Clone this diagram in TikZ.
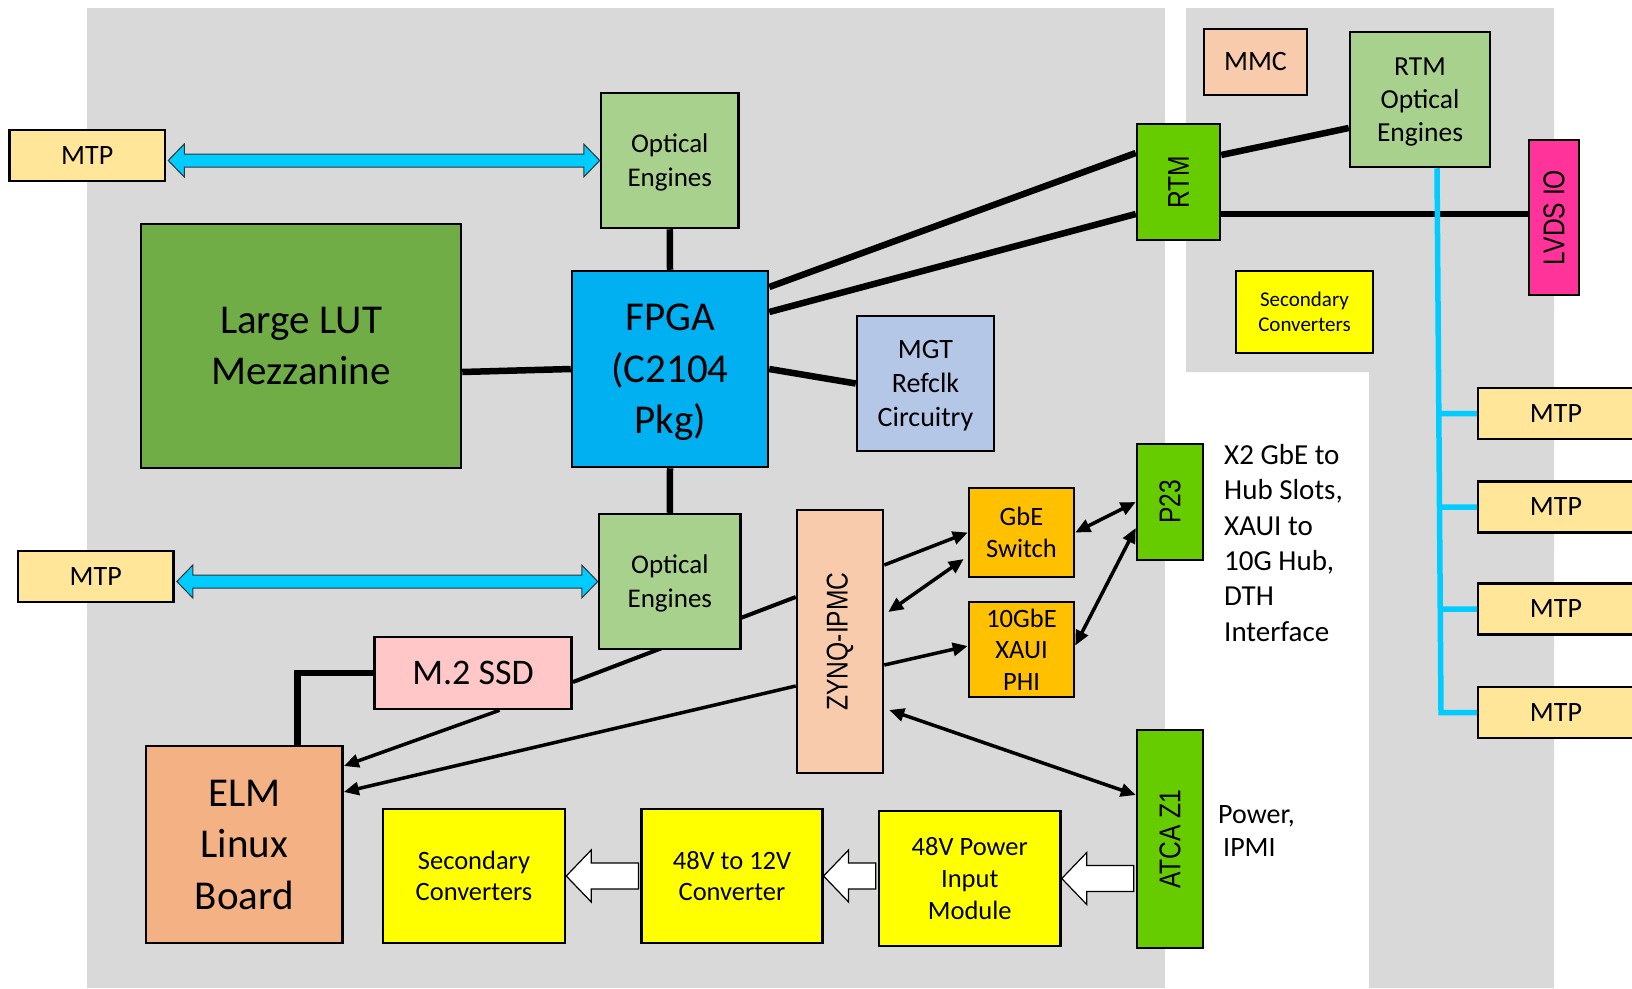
\documentclass[tikz,border=0pt]{standalone}
\usepackage{fontspec}
\setmainfont{Carlito}
\newfontfamily\narrowfont[FakeStretch=0.82]{Liberation Sans}
\usepackage{graphicx}
\usetikzlibrary{arrows.meta,calc}
\definecolor{bggray}{HTML}{D9D9D9}
\definecolor{mtpc}{HTML}{FFE699}
\definecolor{oec}{HTML}{A9D18E}
\definecolor{lutc}{HTML}{70AD47}
\definecolor{fpgac}{HTML}{00B0F0}
\definecolor{mgtc}{HTML}{B4C7E7}
\definecolor{rtmc}{HTML}{66CC00}
\definecolor{mmcc}{HTML}{F8CBAD}
\definecolor{lvdsc}{HTML}{FF3399}
\definecolor{yelc}{HTML}{FFFF00}
\definecolor{orc}{HTML}{FFC000}
\definecolor{ssdc}{HTML}{FFC7C7}
\definecolor{elmc}{HTML}{F4B183}
\definecolor{cyanc}{HTML}{00CCFF}
\pgfdeclarelayer{bg}
\pgfdeclarelayer{conn}
\pgfsetlayers{bg,conn,main}
\tikzset{
  box/.style={draw=black, line width=2.5pt, inner sep=0pt, align=center, text=black},
  fA/.style={font=\fontsize{28}{34}\selectfont},
  fOE/.style={font=\fontsize{27}{34}\selectfont},
  fBig/.style={font=\fontsize{41}{51.5}\selectfont},
  fMid/.style={font=\fontsize{26.5}{31.7}\selectfont},
  fSmall/.style={font=\fontsize{21}{25}\selectfont},
  fSSD/.style={font=\fontsize{36}{42}\selectfont},
  fRot/.style={font=\narrowfont\fontsize{30}{36}\selectfont},
  fNote/.style={font=\fontsize{29}{35.4}\selectfont},
  fNoteB/.style={font=\fontsize{28}{33.3}\selectfont},
  thickline/.style={line width=6.5pt},
  medline/.style={line width=4pt},
  arr/.style={line width=3.5pt, -{Triangle[length=15pt,width=13pt]}},
  darr/.style={line width=3.5pt, {Triangle[length=15pt,width=13pt]}-{Triangle[length=15pt,width=13pt]}},
  cyanline/.style={draw=cyanc, line width=5.5pt},
  fatarr/.style={fill=cyanc, draw=black!80, line width=1pt},
  hollowarr/.style={fill=white, draw=black, line width=1.2pt},
}
\newcommand{\fatarrow}[2]{%
  \draw[fatarr] let \p1=(#1.east), \p2=(#2.west) in
   (\x1+2pt,\y2) -- (\x1+18pt,\y2+16.5pt) -- (\x1+18pt,\y2+6.5pt) -- (\x2-16pt,\y2+6.5pt)
   -- (\x2-16pt,\y2+16.5pt) -- (\x2,\y2) -- (\x2-16pt,\y2-16.5pt) -- (\x2-16pt,\y2-6.5pt)
   -- (\x1+18pt,\y2-6.5pt) -- (\x1+18pt,\y2-16.5pt) -- cycle;}
\newcommand{\hollowarrow}[2]{%
  \draw[hollowarr] let \p1=(#2.east), \p2=(#1.west) in
   (\x1,\y1) -- (\x1+25pt,\y1+26pt) -- (\x1+25pt,\y1+13pt) -- (\x2-2pt,\y1+13pt)
   -- (\x2-2pt,\y1-13pt) -- (\x1+25pt,\y1-13pt) -- (\x1+25pt,\y1-26pt) -- cycle;}
\begin{document}
\begin{tikzpicture}[x=1pt,y=-1pt]
\useasboundingbox (0,0) rectangle (1632,988);
\begin{pgfonlayer}{bg}
\fill[bggray] (87,8) rectangle (1165,988);
\fill[bggray] (1186,8) -- (1554,8) -- (1554,988) -- (1369,988) -- (1369,372) -- (1186,372) -- cycle;
\end{pgfonlayer}

% nodes
\node[box, fA, fill=mtpc, minimum width=155.6, minimum height=51] (mtpA) at (87.2,155.5) {MTP};
\node[box, fOE, fill=oec, minimum width=137.5, minimum height=135] (oeA) at (669.75,160.5) {Optical\\\smash{Engines}};
\node[box, fBig, fill=lutc, minimum width=320, minimum height=244] (lut) at (301,346) {Large LUT\\Mezzanine};
\node[box, fBig, fill=fpgac, minimum width=196, minimum height=196] (fpga) at (670,369) {FPGA\\(C2104\\\smash{Pkg)}};
\node[box, fA, fill=mgtc, minimum width=137, minimum height=135] (mgt) at (925.5,383.5) {MGT\\Refclk\\\smash{Circuitry}};
\node[box, fA, fill=mmcc, minimum width=103, minimum height=66] (mmc) at (1255.5,62) {MMC};
\node[box, font=\fontsize{27.5}{33.3}\selectfont, fill=oec, minimum width=140, minimum height=135] (rtmoe) at (1420,99.5) {RTM\\Optical\\\smash{Engines}};
\node[box, fRot, fill=rtmc, minimum width=83, minimum height=116] (rtm) at (1178.5,182) {\rotatebox{90}{RTM}};
\node[box, fRot, fill=lvdsc, minimum width=50, minimum height=155] (lvds) at (1554,217.5) {\rotatebox{90}{LVDS IO}};
\node[box, fSmall, fill=yelc, minimum width=137, minimum height=82] (sec1) at (1304.5,312) {Secondary\\Converters};
\node[box, fRot, fill=rtmc, minimum width=66, minimum height=116] (p23) at (1170,502) {\rotatebox{90}{P23}};
\node[box, fA, fill=mtpc, minimum width=155.8, minimum height=51] (mtpB) at (95.7,576.5) {MTP};
\node[box, fOE, fill=oec, minimum width=141.6, minimum height=135] (oeB) at (669.8,581.5) {Optical\\\smash{Engines}};
\node[box, fSSD, fill=ssdc, minimum width=197.2, minimum height=72] (ssd) at (473.1,673) {M.2 SSD};
\node[box, fBig, fill=elmc, minimum width=196.6, minimum height=197] (elm) at (244.3,844.5) {ELM\\Linux\\Board};
\node[box, fMid, fill=yelc, minimum width=182, minimum height=134] (sec2) at (474,876) {Secondary\\Converters};
\node[box, fMid, fill=yelc, minimum width=180.6, minimum height=134] (conv) at (732,876) {48V to 12V\\Converter};
\node[box, fMid, fill=yelc, minimum width=181.5, minimum height=135] (pim) at (969.75,878.5) {48V Power\\Input\\Module};
\node[box, fRot, fill=rtmc, minimum width=66, minimum height=218] (atca) at (1170,839) {\rotatebox{90}{ATCA Z1}};
\node[box, fRot, fill=mmcc, minimum width=86, minimum height=263] (zynq) at (840,641.5) {\rotatebox{90}{ZYNQ-IPMC}};
\node[box, fMid, fill=orc, minimum width=105, minimum height=89] (gbe) at (1021.5,532.5) {GbE\\Switch};
\node[box, fMid, fill=orc, minimum width=105, minimum height=95] (xaui) at (1021.5,649.5) {10GbE\\XAUI\\PHI};
\node[box, fA, fill=mtpc, minimum width=156, minimum height=51] (mtpR1) at (1556,413.5) {MTP};
\node[box, fA, fill=mtpc, minimum width=156, minimum height=51] (mtpR2) at (1556,507) {MTP};
\node[box, fA, fill=mtpc, minimum width=156, minimum height=51] (mtpR3) at (1556,609) {MTP};
\node[box, fA, fill=mtpc, minimum width=156, minimum height=51] (mtpR4) at (1556,712.5) {MTP};
\node[fNote, align=left, anchor=north west, inner sep=0pt] (note1) at (1224,444) {X2 GbE to\\Hub Slots,\\XAUI to\\10G Hub,\\DTH\\Interface};
\node[fNoteB, align=left, anchor=north west, inner sep=0pt] (note2) at (1218,805) {Power,\\\hspace*{5pt}IPMI};

% connectors
\begin{pgfonlayer}{conn}
\draw[thickline] (oeA.south) -- (fpga.north);
\draw[thickline] (fpga.south) -- (oeB.north);
\draw[thickline] ([yshift=-26pt]lut.east) -- (fpga.west);
\draw[thickline] ([yshift=82pt]fpga.east) -- ([yshift=29pt]rtm.west);
\draw[thickline] ([yshift=57pt]fpga.east) -- ([yshift=-32pt]rtm.west);
\draw[thickline] (fpga.east) -- (mgt.west);
\draw[thickline] ([yshift=27pt]rtm.east) -- ([yshift=-28.5pt]rtmoe.west);
\coordinate (r1) at ([yshift=-32pt]rtm.east);
\draw[thickline] (r1) -- (r1 -| lvds.west);
\coordinate (trunk) at ([xshift=17pt]rtmoe.south);
\coordinate (trunkend) at ([xshift=21pt]rtmoe.south |- mtpR4.west);
\draw[cyanline] (trunk) -- (trunkend) -- (mtpR4.west);
\draw[cyanline] ($(trunk)!(mtpR1.west)!(trunkend)$) -- (mtpR1.west);
\draw[cyanline] ($(trunk)!(mtpR2.west)!(trunkend)$) -- (mtpR2.west);
\draw[cyanline] ($(trunk)!(mtpR3.west)!(trunkend)$) -- (mtpR3.west);
\draw[medline] ([yshift=44.5pt]zynq.west) -- ([yshift=-9pt]ssd.east);
\draw[thickline] (ssd.west) -| ([xshift=53pt]elm.north);
\draw[arr] ([xshift=26.5pt]ssd.south) -- ([yshift=78.5pt]elm.east);
\draw[arr] ([yshift=-44.5pt]zynq.west) -- ([yshift=52.5pt]elm.east);
\draw[arr] ([yshift=76.5pt]zynq.east) -- (gbe.west);
\draw[darr] ([xshift=4pt,yshift=29.5pt]zynq.east) -- ([xshift=-4pt,yshift=-26.5pt]gbe.west);
\draw[arr] ([yshift=-23.5pt]zynq.east) -- ([yshift=3.5pt]xaui.west);
\draw[darr] (gbe.east) -- (p23.west);
\draw[darr] ([yshift=4pt]xaui.east) -- ([yshift=-26pt]p23.west);
\draw[darr] ([xshift=5pt,yshift=-68.5pt]zynq.east) -- ([yshift=44pt]atca.west);
\end{pgfonlayer}

\fatarrow{mtpA}{oeA}
\fatarrow{mtpB}{oeB}
\hollowarrow{atca}{pim}
\hollowarrow{pim}{conv}
\hollowarrow{conv}{sec2}
\end{tikzpicture}
\end{document}
